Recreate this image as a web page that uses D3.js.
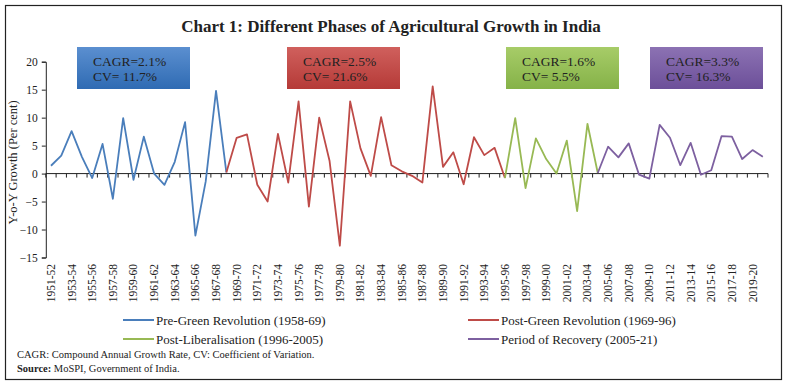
<!DOCTYPE html>
<html>
<head>
<meta charset="utf-8">
<script src="https://cdn.jsdelivr.net/npm/d3@7"></script>
<style>
  body { margin: 0; background: #fff; }
  svg text { font-family: "Liberation Serif", "DejaVu Serif", serif; fill: #222; }
</style>
</head>
<body>
<div id="chart"></div>
<script>
// annees agricoles 1951-52 ... 2020-21
const years = d3.range(1951, 2021).map((y) => y + "-" + String((y + 1) % 100).padStart(2, "0"));

// croissance annuelle (%)
const growth = [
  1.4, 3.2, 7.6, 3.0, -0.8, 5.3, -4.5, 9.9, -1.1, 6.6,
  0.0, -2.0, 2.1, 9.2, -11.1, -1.4, 14.8, 0.2, 6.4, 7.0,
  -2.0, -5.0, 7.1, -1.6, 12.9, -5.9, 10.0, 2.3, -12.9, 12.9,
  4.5, -0.4, 10.1, 1.5, 0.4, -0.4, -1.6, 15.6, 1.2, 3.8,
  -1.9, 6.5, 3.3, 4.6, -0.8, 9.9, -2.6, 6.3, 2.6, 0.0,
  5.9, -6.7, 8.9, 0.1, 4.8, 2.9, 5.4, -0.2, -0.9, 8.7,
  6.4, 1.5, 5.5, -0.2, 0.6, 6.7, 6.6, 2.6, 4.2, 3.0
];

// les 4 phases
const phaseNames = [
  "Pre-Green Revolution (1958-69)",
  "Post-Green Revolution (1969-96)",
  "Post-Liberalisation (1996-2005)",
  "Period of Recovery (2005-21)"
];
const phaseStart = ["1951-52", "1968-69", "1995-96", "2004-05"];
const phaseEnd = ["1968-69", "1995-96", "2004-05", "2020-21"];
const phaseCagr = ["2.1%", "2.5%", "1.6%", "3.3%"];
const phaseCv = ["11.7%", "21.6%", "5.5%", "16.3%"];
const phaseColors = ["#4a7ebb", "#be4b48", "#98b954", "#7d60a0"];
const boxColors = [["#5b8fd0", "#2f6bb3"], ["#d0605d", "#b53a37"], ["#a7cc68", "#85b248"], ["#8c72b3", "#6c4f99"]];

const yTicks = [-15, -10, -5, 0, 5, 10, 15, 20];

// dimensions
const width = 788, height = 388;

const svg = d3.select("#chart").append("svg")
  .attr("width", width).attr("height", height);

// cadre
svg.append("rect")
  .attr("x", 5.5).attr("y", 5.5)
  .attr("width", 776).attr("height", 374)
  .attr("fill", "none").attr("stroke", "#222").attr("stroke-width", 1.2);

// titre
svg.append("text")
  .attr("x", 391).attr("y", 32)
  .attr("text-anchor", "middle")
  .style("font-size", "17px").style("font-weight", "bold")
  .text("Chart 1: Different Phases of Agricultural Growth in India");

// echelles
const x = d3.scaleBand().domain(years).range([45.8, 768]).padding(0);
const y = d3.scaleLinear().domain([-15, 20]).range([257.5, 61.7]);
const cx = (d) => x(d) + x.bandwidth() / 2;

// axe y
svg.append("g")
  .attr("transform", "translate(45.8,0)")
  .call(d3.axisLeft(y).tickValues(yTicks).tickSize(4).tickPadding(4))
  .call((g) => g.selectAll("text").style("font-size", "11.5px").style("font-family", "Liberation Serif"))
  .call((g) => g.select(".domain").attr("stroke", "#222"))
  .call((g) => g.selectAll(".tick line").attr("stroke", "#222"));

svg.append("text")
  .attr("transform", "translate(17," + y(2) + ") rotate(-90)")
  .attr("text-anchor", "middle")
  .style("font-size", "12.5px")
  .text("Y-o-Y Growth (Per cent)");

// axe x (a zero), ticks entre les categories
const xAxis = svg.append("g").attr("transform", "translate(0," + y(0) + ")");
xAxis.append("line")
  .attr("x1", 45.8).attr("x2", 768)
  .attr("stroke", "#222");
xAxis.selectAll(".tk")
  .data(years.concat(["end"]))
  .enter()
  .append("line")
  .attr("x1", (d, i) => 45.8 + i * x.bandwidth())
  .attr("x2", (d, i) => 45.8 + i * x.bandwidth())
  .attr("y1", 0).attr("y2", 4)
  .attr("stroke", "#222");

// etiquettes x (une sur deux)
svg.selectAll(".xlab")
  .data(years.filter((d, i) => i % 2 === 0))
  .enter()
  .append("text")
  .attr("transform", (d) => "translate(" + (cx(d) + 4) + ",264) rotate(-90)")
  .attr("text-anchor", "end")
  .style("font-size", "11.5px")
  .text((d) => d);

// lignes par phase
const line = d3.line().x((d) => cx(d.year)).y((d) => y(d.value));
const points = years.map((d, i) => ({ year: d, value: growth[i] }));

phaseNames.forEach(function (name, k) {
  const a = years.indexOf(phaseStart[k]);
  const b = years.indexOf(phaseEnd[k]);
  svg.append("path")
    .datum(points.slice(a, b + 1))
    .attr("d", line)
    .attr("fill", "none")
    .attr("stroke", phaseColors[k])
    .attr("stroke-width", 1.8)
    .attr("stroke-linejoin", "round");
});

// boites CAGR / CV
const defs = svg.append("defs");
const boxX = [77, 287, 506, 650];
boxColors.forEach(function (c, k) {
  const grad = defs.append("linearGradient")
    .attr("id", "g" + k).attr("x1", 0).attr("y1", 0).attr("x2", 0).attr("y2", 1);
  grad.append("stop").attr("offset", "0%").attr("stop-color", c[0]);
  grad.append("stop").attr("offset", "100%").attr("stop-color", c[1]);

  svg.append("rect")
    .attr("x", boxX[k]).attr("y", 47)
    .attr("width", 113).attr("height", 42)
    .attr("fill", "url(#g" + k + ")");
  svg.append("text")
    .attr("x", boxX[k] + 16).attr("y", 65.5)
    .style("font-size", "13.5px")
    .text("CAGR=" + phaseCagr[k]);
  svg.append("text")
    .attr("x", boxX[k] + 16).attr("y", 81)
    .style("font-size", "13.5px")
    .text("CV= " + phaseCv[k]);
});

// legende
const legX = [123, 468];
const legY = [320, 339];
phaseNames.forEach(function (name, k) {
  const col = k === 0 || k === 2 ? 0 : 1;
  const row = k < 2 ? 0 : 1;
  svg.append("line")
    .attr("x1", legX[col]).attr("x2", legX[col] + 31)
    .attr("y1", legY[row]).attr("y2", legY[row])
    .attr("stroke", phaseColors[k]).attr("stroke-width", 2);
  svg.append("text")
    .attr("x", legX[col] + 33).attr("y", legY[row] + 4.5)
    .style("font-size", "13px")
    .text(name);
});

// notes
svg.append("text")
  .attr("x", 17).attr("y", 358)
  .style("font-size", "10.5px")
  .text("CAGR: Compound Annual Growth Rate, CV: Coefficient of Variation.");
const src = svg.append("text")
  .attr("x", 17).attr("y", 372)
  .style("font-size", "10.5px");
src.append("tspan").style("font-weight", "bold").text("Source:");
src.append("tspan").text(" MoSPI, Government of India.");
</script>
</body>
</html>
